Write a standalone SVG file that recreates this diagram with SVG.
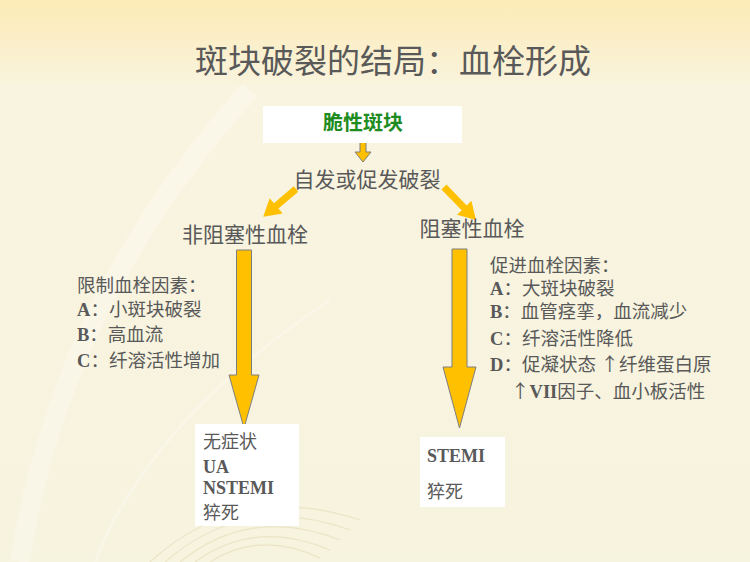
<svg xmlns="http://www.w3.org/2000/svg" width="750" height="562" viewBox="0 0 750 562">
<defs>
<linearGradient id="bg" x1="0" y1="0" x2="0" y2="1">
<stop offset="0" stop-color="#fcebb6"/>
<stop offset="0.16" stop-color="#f9f4e0"/>
<stop offset="1" stop-color="#f6f3de"/>
</linearGradient>
<style>
.t{font-family:"Noto Sans CJK SC","Noto Sans",sans-serif;fill:#595959}
.f{font-family:"Liberation Serif","Noto Sans CJK SC",serif;fill:#595959;font-size:18.5px}
.o{font-size:18px}
.b{font-weight:bold}
.up{font-family:"Noto Sans CJK SC",sans-serif}
.box{fill:#ffffff}
.big{fill:#ffc000;stroke:#7f7f7f;stroke-width:1}
.diag{fill:#ffc000}
.deco{fill:none;stroke:#ffffff;opacity:0.28}
</style>
</defs>
<rect width="750" height="562" fill="url(#bg)"/>
<g id="decor">
<path class="deco" d="M20 562 Q60 300 250 90" stroke-width="20"/>
<path class="deco" d="M95 562 Q150 420 330 300" stroke-width="3"/>
<g stroke="#e9e2c2" fill="none" stroke-width="1.2" opacity="0.8">
<path d="M150 562 Q240 480 360 520"/>
<path d="M165 562 Q245 492 350 530"/>
<path d="M180 562 Q250 505 340 540"/>
<path d="M195 562 Q255 518 330 550"/>
<path d="M210 562 Q260 530 320 558"/>
</g>
</g>
<g id="title">
<text class="t" x="393" y="73" font-size="33" text-anchor="middle">斑块破裂的结局：血栓形成</text>
</g>
<g id="connectors">
<polygon class="big" points="360,137 366,137 366,152 371,152 363,162 355,152 360,152"/>
<polygon class="diag" transform="translate(296,189) rotate(139.7)" points="0,-3.5 26,-3.5 26,-10 43,0 26,10 26,3.5 0,3.5"/>
<polygon class="diag" transform="translate(444,187) rotate(45.9)" points="0,-3.5 29,-3.5 29,-10 46,0 29,10 29,3.5 0,3.5"/>
<polygon class="big" points="236.5,250 251.5,250 251.5,375 259,375 244,428 229,375 236.5,375"/>
<polygon class="big" points="452,249 467,249 467,367 476,367 459.5,428 443,367 452,367"/>
</g>
<g id="node-fragile">
<rect class="box" x="263" y="106" width="199" height="37"/>
<text x="363" y="130" font-size="20" font-weight="bold" fill="#1e8c1e" text-anchor="middle" font-family="Noto Sans CJK SC, sans-serif">脆性斑块</text>
</g>
<g id="node-rupture">
<text class="t" x="367" y="187" font-size="21" text-anchor="middle">自发或促发破裂</text>
</g>
<g id="node-nonocclusive">
<text class="t" x="245" y="242" font-size="21" text-anchor="middle">非阻塞性血栓</text>
</g>
<g id="node-occlusive">
<text class="t" x="472" y="236" font-size="21" text-anchor="middle">阻塞性血栓</text>
</g>
<g id="node-limit-factors">
<text class="f" x="77" y="292">限制血栓因素：</text>
<text class="f" x="77" y="316"><tspan class="b">A</tspan>：小斑块破裂</text>
<text class="f" x="77" y="341"><tspan class="b">B</tspan>：高血流</text>
<text class="f" x="77" y="367"><tspan class="b">C</tspan>：纤溶活性增加</text>
</g>
<g id="node-promote-factors">
<text class="f" x="490" y="272">促进血栓因素：</text>
<text class="f" x="490" y="295"><tspan class="b">A</tspan>：大斑块破裂</text>
<text class="f" x="490" y="318"><tspan class="b">B</tspan>：血管痉挛，血流减少</text>
<text class="f" x="490" y="345"><tspan class="b">C</tspan>：纤溶活性降低</text>
<text class="f" x="490" y="371"><tspan class="b">D</tspan>：促凝状态 <tspan class="up">↑</tspan>纤维蛋白原</text>
<text class="f" x="511" y="398"><tspan class="up">↑</tspan><tspan class="b">VII</tspan>因子、血小板活性</text>
</g>
<g id="node-outcome-left">
<rect class="box" x="195" y="424" width="104" height="102"/>
<text class="f o" x="203" y="448">无症状</text>
<text class="f o b" x="203" y="473">UA</text>
<text class="f o b" x="203" y="494">NSTEMI</text>
<text class="f o" x="203" y="519">猝死</text>
</g>
<g id="node-outcome-right">
<rect class="box" x="420" y="437" width="85" height="70"/>
<text class="f o b" x="427" y="462">STEMI</text>
<text class="f o" x="427" y="498">猝死</text>
</g>
</svg>
